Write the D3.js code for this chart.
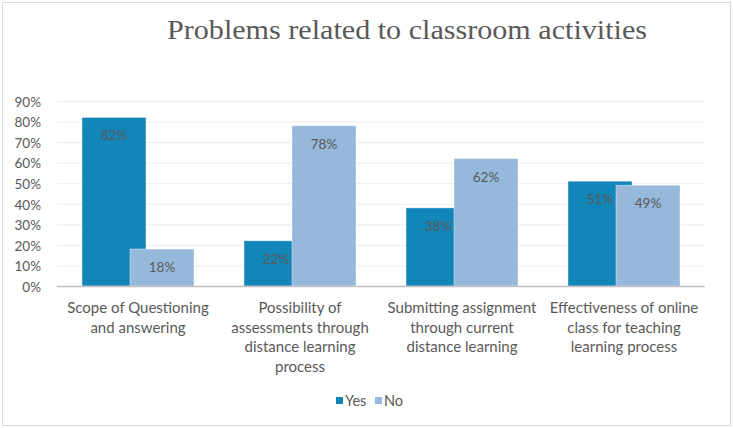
<!DOCTYPE html>
<meta charset="utf-8">
<style>
body { margin: 0; background: #fff; }
text { font-family: Lato, "Liberation Sans", sans-serif; fill: #595959; }
.title { font-family: "Liberation Serif", "DejaVu Serif", serif; }
</style>
<body>
<script src="https://d3js.org/d3.v7.min.js"></script>
<script>

// data
var categories = [
    ["Scope of Questioning", "and answering"],
    ["Possibility of", "assessments through", "distance learning", "process"],
    ["Submitting assignment", "through current", "distance learning"],
    ["Effectiveness of online", "class for teaching", "learning process"]
];
var yesValues = [82, 22, 38, 51];
var noValues = [18, 78, 62, 49];
var series = ["Yes", "No"];
var colors = ["#1386b9", "#95b8db"];
var yTicks = [0, 10, 20, 30, 40, 50, 60, 70, 80, 90];

var w = 733, h = 428;
var margin = {top: 101, left: 57, right: 28, bottom: 142};
var width = w - margin.left - margin.right,
    height = h - margin.top - margin.bottom;

var svg = d3.select("body").append("svg")
    .attr("width", w)
    .attr("height", h);

// outer frame
svg.append("rect")
    .attr("x", 2.5).attr("y", 2.5)
    .attr("width", w - 5).attr("height", h - 5)
    .attr("fill", "#fff")
    .attr("stroke", "#d9d9d9");

svg.append("text")
    .attr("class", "title")
    .attr("x", 167)
    .attr("y", 39)
    .attr("textLength", 480)
    .attr("lengthAdjust", "spacingAndGlyphs")
    .style("font-size", "28px")
    .text("Problems related to classroom activities");

var g = svg.append("g")
    .attr("transform", "translate(" + margin.left + "," + margin.top + ")");

var x = d3.scaleBand()
    .domain(d3.range(categories.length))
    .range([0, width]);

var y = d3.scaleLinear()
    .domain([0, 90])
    .range([height, 0]);

// gridlines
g.selectAll(".grid")
    .data(yTicks.slice(1))
    .enter().append("line")
    .attr("x1", 0).attr("x2", width)
    .attr("y1", function(d) { return y(d) + 0.5; })
    .attr("y2", function(d) { return y(d) + 0.5; })
    .attr("stroke", "#ececec");

// y tick labels
g.selectAll(".ytick")
    .data(yTicks)
    .enter().append("text")
    .attr("x", -16)
    .attr("y", function(d) { return y(d) + 1; })
    .attr("dy", "0.35em")
    .attr("text-anchor", "end")
    .style("font-size", "13.5px")
    .text(function(d) { return d + "%"; });

// bars - each bar 64px, overlapped by 25%
var barW = x.bandwidth() * 0.395;
var step = barW * 0.75;
var groupW = barW + step;

var groups = g.selectAll(".cat")
    .data(categories)
    .enter().append("g")
    .attr("transform", function(d, i) {
        return "translate(" + (x(i) + (x.bandwidth() - groupW) / 2) + ",0)";
    });

[yesValues, noValues].forEach(function(vals, s) {
    groups.append("rect")
        .attr("x", s * step)
        .attr("y", function(d, i) { return y(vals[i]); })
        .attr("width", barW)
        .attr("height", function(d, i) { return height - y(vals[i]); })
        .attr("fill", colors[s])
        .attr("stroke", "#fff")
        .attr("stroke-opacity", 0.5)
        .attr("stroke-width", 0.8);
});

[yesValues, noValues].forEach(function(vals, s) {
    groups.append("text")
        .attr("x", s * step + barW / 2)
        .attr("y", function(d, i) { return y(vals[i]) + 23; })
        .attr("text-anchor", "middle")
        .style("font-size", "13.5px")
        .text(function(d, i) { return vals[i] + "%"; });
});

// baseline
g.append("line")
    .attr("x1", 0).attr("x2", width)
    .attr("y1", height + 0.5).attr("y2", height + 0.5)
    .attr("stroke", "#bfbfbf")
    .attr("stroke-width", 1.5);

// category labels
groups.append("text")
    .attr("y", height + 27)
    .attr("text-anchor", "middle")
    .style("font-size", "15px")
    .each(function(d) {
        var t = d3.select(this);
        d.forEach(function(line, k) {
            t.append("tspan")
                .attr("x", groupW / 2)
                .attr("dy", k == 0 ? 0 : 19.5)
                .text(line);
        });
    });

// legend
var legend = svg.append("g")
    .attr("transform", "translate(336,397)");
var lx = [0, 39];
series.forEach(function(s, i) {
    legend.append("rect")
        .attr("x", lx[i]).attr("y", 0)
        .attr("width", 7).attr("height", 7)
        .attr("fill", colors[i]);
    legend.append("text")
        .attr("x", lx[i] + 9)
        .attr("y", 4)
        .attr("dy", "0.35em")
        .style("font-size", "14.5px")
        .text(s);
});

</script>
</body>
